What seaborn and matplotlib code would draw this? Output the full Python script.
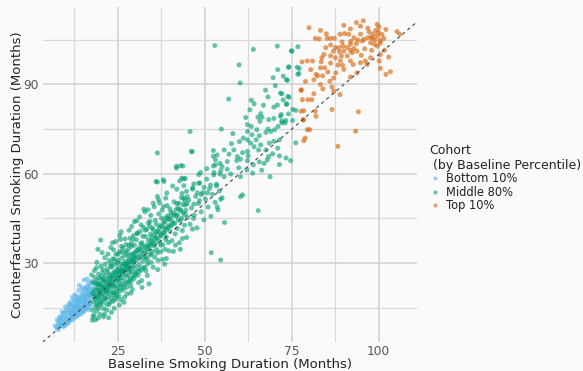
import matplotlib
matplotlib.use("Agg")
import matplotlib.pyplot as plt
import seaborn as sns
import pandas as pd
from matplotlib.ticker import MultipleLocator

# ---------------- data (baseline months, counterfactual months) ----------------
bottom_pts = [
    (7.5, 8.2), (8.0, 9.5), (8.3, 8.8), (8.8, 10.6), (9.0, 9.2), (9.2, 11.4), (9.5, 10.1), (9.8, 8.9),
    (10.0, 12.0), (10.1, 10.6), (10.4, 11.3), (10.6, 13.2), (10.8, 9.8), (11.0, 12.4), (11.2, 14.1),
    (11.3, 11.0), (11.5, 13.0), (11.7, 15.2), (11.8, 12.1), (12.0, 10.9), (12.1, 14.0), (12.3, 16.1),
    (12.4, 12.8), (12.6, 13.9), (12.8, 11.7), (12.9, 15.3), (13.0, 17.2), (13.1, 13.1), (13.3, 14.6),
    (13.4, 12.2), (13.6, 16.4), (13.7, 15.0), (13.9, 13.5), (14.0, 18.3), (14.1, 14.4), (14.2, 16.9),
    (14.4, 12.9), (14.5, 15.8), (14.6, 19.5), (14.7, 14.2), (14.9, 17.1), (15.0, 15.4), (15.1, 20.3),
    (15.2, 13.6), (15.3, 18.2), (15.4, 16.3), (15.5, 21.4), (15.6, 14.9), (15.7, 17.6), (15.8, 19.0),
    (15.9, 15.7), (16.0, 22.1), (16.1, 16.8), (16.2, 18.6), (16.3, 14.3), (16.4, 20.2), (16.5, 17.3),
    (16.6, 23.2), (16.7, 15.6), (16.8, 19.4), (16.9, 21.0), (17.0, 17.9), (17.1, 16.2), (17.2, 22.6),
    (17.3, 18.8), (17.4, 20.5), (11.6, 17.0), (13.2, 18.8), (14.8, 21.6), (12.7, 19.3), (10.2, 14.0),
    (9.4, 12.7), (10.0, 15.3), (11.0, 16.2), (12.4, 17.5), (9.0, 13.6), (8.3, 11.8), (15.3, 24.3),
    (8.6, 9.1), (13.8, 20.8), (16.2, 24.6), (7.9, 7.6),
    (8.1, 10.4), (8.7, 11.9), (9.3, 8.6), (9.6, 13.3), (10.3, 9.6), (10.7, 14.8), (11.1, 10.5),
    (11.4, 15.9), (11.9, 13.6), (12.2, 11.9), (12.5, 15.4), (12.9, 13.0), (13.2, 16.0), (13.5, 17.9),
    (13.8, 12.6), (14.1, 17.6), (14.3, 15.2), (14.7, 18.6), (15.0, 13.9), (15.2, 19.2), (15.5, 17.0),
    (15.8, 21.0), (16.0, 14.8), (16.3, 19.8), (16.6, 21.8), (16.9, 16.0), (17.2, 19.4), (17.4, 23.8),
    (14.0, 22.5), (12.0, 18.6), (7.0, 8.9), (7.6, 10.9),
]

middle_pts = [
    # 17-20
    (17.6, 14.2), (17.8, 19.8), (17.9, 23.5), (18.0, 16.9), (18.1, 21.3), (18.2, 12.6), (18.3, 18.4),
    (18.4, 25.1), (18.5, 15.3), (18.6, 20.7), (18.7, 17.5), (18.8, 22.8), (18.9, 13.9), (19.0, 19.2),
    (19.1, 24.0), (19.2, 16.4), (19.3, 21.9), (19.4, 18.1), (19.5, 26.3), (19.6, 14.8), (19.7, 20.4),
    (19.8, 23.1), (19.9, 17.2), (20.0, 19.8), (17.7, 10.8), (19.4, 11.5), (18.9, 28.4), (17.5, 26.0),
    # 20-23
    (20.1, 22.6), (20.2, 15.9), (20.3, 25.4), (20.4, 18.7), (20.5, 21.1), (20.6, 27.8), (20.7, 17.3),
    (20.8, 23.9), (20.9, 20.0), (21.0, 14.6), (21.1, 24.7), (21.2, 19.1), (21.3, 22.2), (21.4, 29.6),
    (21.5, 17.9), (21.6, 25.8), (21.7, 21.4), (21.8, 16.2), (21.9, 23.3), (22.0, 20.5), (22.1, 27.1),
    (22.2, 18.6), (22.3, 24.4), (22.4, 21.9), (22.5, 30.8), (22.6, 19.7), (22.7, 26.2), (22.8, 16.9),
    (22.9, 23.6), (23.0, 21.0), (20.5, 33.5), (21.2, 12.8), (22.4, 11.6), (23.0, 35.2),
    # 23-26
    (23.1, 25.3), (23.2, 18.2), (23.3, 28.6), (23.4, 22.5), (23.5, 20.0), (23.6, 31.4), (23.7, 24.1),
    (23.8, 19.3), (23.9, 26.9), (24.0, 22.8), (24.1, 29.5), (24.2, 17.6), (24.3, 25.7), (24.4, 21.6),
    (24.5, 32.9), (24.6, 23.9), (24.7, 27.7), (24.8, 20.4), (24.9, 30.1), (25.0, 24.6), (25.1, 22.1),
    (25.2, 28.3), (25.3, 19.0), (25.4, 26.4), (25.5, 33.8), (25.6, 23.2), (25.7, 29.9), (25.8, 21.5),
    (25.9, 27.3), (26.0, 25.0), (24.0, 14.8), (25.5, 15.9), (23.5, 36.8), (25.8, 37.9),
    # 26-30
    (26.1, 31.6), (26.2, 22.7), (26.3, 28.9), (26.4, 26.1), (26.5, 35.1), (26.6, 20.9), (26.7, 29.8),
    (26.8, 24.3), (26.9, 32.5), (27.0, 27.4), (27.1, 23.1), (27.2, 30.6), (27.3, 26.0), (27.4, 36.2),
    (27.5, 28.8), (27.6, 21.8), (27.7, 33.4), (27.8, 25.6), (27.9, 30.0), (28.0, 27.9), (28.1, 34.7),
    (28.2, 23.9), (28.3, 31.2), (28.4, 26.8), (28.5, 38.3), (28.6, 29.5), (28.7, 22.4), (28.8, 32.8),
    (28.9, 27.0), (29.0, 35.6), (29.1, 30.4), (29.2, 25.3), (29.3, 33.1), (29.4, 28.4), (29.5, 39.2),
    (29.6, 31.7), (29.7, 24.8), (29.8, 36.0), (29.9, 29.1), (30.0, 33.6), (27.0, 18.5), (28.8, 19.9),
    (26.0, 40.5), (29.0, 42.3),
    # 30-35
    (30.2, 27.2), (30.4, 37.8), (30.6, 31.0), (30.8, 25.9), (31.0, 34.9), (31.2, 29.4), (31.4, 40.6),
    (31.6, 32.3), (31.8, 27.6), (32.0, 36.8), (32.2, 30.6), (32.4, 42.0), (32.6, 34.1), (32.8, 28.5),
    (33.0, 38.9), (33.2, 31.8), (33.4, 36.0), (33.6, 29.7), (33.8, 43.5), (34.0, 35.2), (34.2, 32.6),
    (34.4, 39.7), (34.6, 30.2), (34.8, 37.4), (35.0, 33.9), (31.0, 23.4), (33.5, 25.8), (30.5, 44.2),
    (34.5, 46.0), (32.0, 21.8),
    # 35-40
    (35.2, 41.2), (35.4, 35.8), (35.6, 32.0), (35.8, 44.3), (36.0, 38.2), (36.2, 34.5), (36.4, 40.8),
    (36.6, 30.9), (36.8, 46.5), (37.0, 37.1), (37.2, 42.6), (37.4, 33.8), (37.6, 39.5), (37.8, 47.8),
    (38.0, 36.2), (38.2, 43.9), (38.4, 40.1), (38.6, 34.6), (38.8, 45.2), (39.0, 38.7), (39.2, 49.3),
    (39.4, 42.0), (39.6, 36.9), (39.8, 44.7), (40.0, 40.8), (36.5, 27.8), (38.5, 29.6), (37.0, 50.2),
    (39.0, 31.5),
    # 40-45
    (40.3, 47.0), (40.6, 37.5), (40.9, 43.2), (41.2, 50.6), (41.5, 39.8), (41.8, 45.9), (42.1, 41.6),
    (42.4, 48.4), (42.7, 36.8), (43.0, 44.1), (43.3, 52.0), (43.6, 40.9), (43.9, 46.8), (44.2, 42.7),
    (44.5, 49.5), (44.8, 38.6), (45.0, 45.3), (41.0, 33.9), (42.0, 54.8), (44.0, 56.0), (43.0, 34.6),
    # 45-55
    (45.4, 51.2), (45.8, 43.0), (46.2, 48.5), (46.6, 55.3), (47.0, 46.1), (47.4, 52.4), (47.8, 41.8),
    (48.2, 50.0), (48.6, 56.9), (49.0, 47.2), (49.4, 53.7), (49.8, 44.5), (50.2, 51.5), (50.6, 58.2),
    (51.0, 48.8), (51.4, 55.0), (51.8, 45.7), (52.2, 53.1), (52.6, 59.6), (53.0, 50.4), (53.4, 56.5),
    (53.8, 47.9), (54.2, 54.2), (54.6, 61.0), (55.0, 51.9),
    # wider scatter around the dense band
    (17.9, 12.0), (18.3, 27.5), (18.6, 10.9), (19.0, 30.2), (19.5, 22.8), (19.9, 12.7), (20.2, 29.0),
    (20.6, 24.5), (20.9, 11.9), (21.3, 31.8), (21.6, 20.8), (21.9, 14.2), (22.2, 33.0), (22.6, 22.3),
    (22.9, 28.9), (23.2, 13.4), (23.5, 26.0), (23.8, 34.4), (24.1, 20.1), (24.4, 37.2), (24.7, 18.4),
    (25.0, 30.9), (25.3, 25.2), (25.6, 39.3), (25.9, 17.7), (26.2, 33.7), (26.5, 27.3), (26.8, 16.8),
    (27.1, 38.1), (27.4, 29.4), (27.7, 19.6), (28.0, 32.3), (28.3, 41.0), (28.6, 24.7), (28.9, 36.6),
    (29.2, 21.1), (29.5, 30.8), (29.8, 43.9), (30.1, 26.4), (30.4, 34.2), (30.7, 39.9), (31.0, 28.1),
    (31.3, 45.5), (31.6, 36.4), (31.9, 24.1), (32.2, 39.0), (32.5, 33.0), (32.8, 47.2), (33.1, 27.4),
    (33.4, 41.3), (33.7, 34.8), (34.0, 23.0), (34.3, 44.0), (34.6, 36.1), (34.9, 41.8), (35.2, 28.6),
    (35.5, 48.9), (35.8, 38.6), (36.1, 43.0), (36.4, 33.4), (36.7, 51.3), (37.0, 40.3), (37.3, 36.0),
    (37.6, 45.1), (37.9, 31.2), (38.2, 49.0), (38.5, 41.7), (38.8, 37.9), (39.1, 53.5), (39.4, 45.9),
    (39.7, 34.1), (40.0, 48.2), (40.4, 42.5), (40.8, 55.9), (41.2, 46.0), (41.6, 36.0), (42.0, 49.9),
    (42.4, 44.6), (42.8, 57.6), (43.2, 47.5), (43.6, 38.2), (44.0, 51.8), (44.4, 46.3), (44.8, 54.1),
    # dense core near the diagonal
    (18.2, 19.6), (18.8, 18.6), (19.3, 20.9), (19.7, 18.9), (20.1, 20.7), (20.6, 22.1), (21.0, 21.8),
    (21.4, 23.7), (21.8, 20.3), (22.2, 22.9), (22.6, 24.9), (23.0, 23.2), (23.4, 24.8), (23.8, 22.2),
    (24.2, 26.8), (24.6, 25.4), (25.0, 27.1), (25.4, 24.3), (25.8, 26.9), (26.2, 28.0), (26.6, 27.1),
    (27.0, 29.5), (27.4, 27.8), (27.8, 29.1), (28.2, 30.4), (28.6, 28.1), (29.0, 31.3), (29.4, 30.6),
    (29.8, 32.4), (30.2, 31.9), (30.6, 33.8), (31.0, 32.2), (31.4, 34.6), (31.8, 33.7), (32.2, 35.5),
    (32.6, 31.9), (33.0, 35.4), (33.4, 33.7), (33.8, 37.6), (34.2, 36.3), (34.6, 38.5), (35.0, 37.0),
    (35.4, 39.6), (35.8, 36.7), (36.2, 40.2), (36.6, 38.4), (37.0, 41.8), (37.4, 39.1), (37.8, 42.4),
    (38.2, 40.3), (38.6, 43.6), (39.0, 41.3), (39.4, 44.8), (39.8, 42.6), (40.2, 45.4), (40.6, 44.0),
    (41.0, 46.8), (41.4, 43.4), (41.8, 48.0), (42.2, 46.2), (42.6, 50.1), (43.0, 47.9), (43.4, 45.1),
    (43.8, 49.6), (44.2, 51.1), (44.6, 47.7),
    (18.5, 23.3), (19.1, 15.8), (19.6, 25.0), (20.3, 16.6), (20.8, 26.7), (21.4, 18.0), (21.9, 27.9),
    (22.5, 16.0), (23.1, 29.8), (23.6, 17.1), (24.0, 31.2), (24.5, 19.2), (25.1, 33.0), (25.6, 20.6),
    (26.1, 35.6), (26.7, 22.0), (27.2, 33.9), (27.8, 23.4), (28.3, 36.0), (28.9, 23.9), (29.4, 38.0),
    (29.9, 26.0), (30.5, 40.0), (31.1, 27.0), (31.7, 42.8), (32.3, 28.4), (32.9, 41.0), (33.5, 31.0),
    (34.1, 42.5), (34.7, 33.0),
    # off-band outliers
    (36.4, 67.0), (46.2, 67.5), (52.5, 65.9), (53.1, 63.0), (41.9, 61.9), (43.1, 62.7), (36.4, 57.2),
    (38.3, 57.4), (44.0, 58.3), (48.3, 59.7), (32.5, 48.1), (33.7, 47.9), (35.2, 50.1), (36.4, 52.4),
    (38.8, 51.8), (54.6, 31.0), (51.9, 33.5), (65.4, 47.6), (55.7, 43.6), (46.5, 41.4), (46.8, 45.0),
    (43.4, 58.5), (38.1, 58.0), (36.0, 57.4), (41.9, 62.5), (19.3, 34.6), (20.1, 37.7),
    # upper sparse region
    (52.9, 103.1), (64.0, 101.8), (70.9, 102.9), (74.9, 101.3), (59.9, 96.6), (60.2, 90.5),
    (74.2, 95.9), (77.1, 93.7), (69.7, 92.3), (72.6, 92.8), (73.8, 91.4), (56.9, 85.1), (63.4, 84.7),
    (64.2, 83.5), (68.2, 85.8), (69.9, 82.4), (70.9, 83.1), (72.2, 86.9), (73.9, 86.0), (73.6, 83.5),
    (66.1, 80.2), (65.3, 79.0), (66.5, 79.0), (68.4, 78.2), (69.9, 78.6), (71.8, 79.3), (72.2, 77.7),
    (65.9, 77.6), (62.3, 76.5), (63.4, 75.9), (65.0, 74.8), (68.2, 75.0), (70.1, 74.8), (71.1, 75.9),
    (54.8, 75.0), (45.8, 74.2), (62.3, 74.2), (63.6, 73.1), (65.7, 72.8), (67.6, 73.9), (69.0, 74.2),
    (71.5, 71.4), (61.1, 72.0), (62.3, 71.4), (63.2, 70.3), (64.8, 71.4), (66.1, 69.7), (68.6, 70.3),
    (57.7, 70.1), (55.6, 68.0), (53.6, 66.3), (52.5, 67.8), (46.4, 67.4), (58.4, 68.0), (59.4, 65.8),
    (60.9, 67.1), (62.3, 67.5), (64.2, 69.1), (65.5, 68.0), (67.6, 68.0), (68.4, 65.8), (69.5, 66.7),
    (71.5, 66.0), (73.4, 65.3), (74.7, 64.4), (71.5, 63.1), (68.0, 64.7), (67.1, 63.5), (65.7, 64.0),
    (64.0, 63.0), (62.3, 64.4), (60.3, 64.9), (59.2, 64.4), (56.5, 64.1), (54.4, 63.5), (53.1, 64.7),
    (52.5, 62.6), (55.0, 62.4), (56.5, 61.5), (50.6, 61.7), (48.8, 60.4), (44.4, 58.4), (43.7, 62.6),
    (52.7, 60.4), (54.4, 59.9), (55.6, 59.0), (57.5, 59.9), (60.3, 59.0), (62.1, 61.3), (63.8, 60.2),
    (68.8, 59.0), (46.9, 56.6), (48.3, 56.8), (49.8, 55.4), (51.7, 56.2), (53.4, 55.9), (60.9, 52.9),
    (60.3, 52.3), (53.6, 48.9), (54.6, 51.4), (43.5, 53.4), (46.5, 54.8), (45.0, 52.3), (47.9, 53.6),
    (49.0, 53.0), (50.8, 53.6), (48.5, 51.0), (45.0, 50.0), (46.9, 49.8),
    (75.1, 101.2), (76.8, 102.7), (74.1, 95.8), (76.6, 95.8), (77.2, 95.4), (76.8, 93.4), (73.5, 91.6),
    (71.8, 87.1), (74.3, 85.7), (72.6, 84.8), (73.5, 83.3), (75.3, 81.6), (76.2, 81.3), (72.0, 79.9),
    (74.1, 80.1), (75.3, 77.9), (73.3, 77.9), (72.2, 77.1), (73.1, 77.1), (76.2, 70.4),
    (58.1, 73.5), (60.0, 70.8), (61.8, 78.9), (63.0, 81.5), (66.9, 83.0), (67.5, 88.1), (70.3, 89.6),
    (71.0, 95.0), (62.5, 66.0), (57.0, 66.6), (59.8, 62.0), (66.4, 61.2), (69.9, 70.9), (71.0, 68.6),
]

top_pts = [
    (80.0, 109.1), (83.3, 108.2), (90.0, 109.9), (91.9, 108.7), (93.6, 110.8), (95.6, 111.4),
    (94.8, 109.6), (96.9, 108.9), (99.6, 110.2), (100.1, 109.3), (99.2, 108.2), (102.1, 108.5),
    (105.3, 107.8), (106.1, 106.9), (81.8, 105.5), (82.9, 105.3), (85.2, 105.5), (86.2, 105.5),
    (87.3, 105.5), (88.9, 106.9), (90.2, 107.1), (91.4, 106.9), (92.9, 105.7), (94.8, 106.9),
    (95.8, 105.2), (96.9, 105.7), (98.3, 105.5), (99.6, 106.3), (100.5, 104.8), (101.5, 105.5),
    (97.7, 104.0), (98.8, 103.5), (99.6, 102.9), (100.5, 103.9), (95.3, 104.6), (93.6, 103.7),
    (91.9, 103.5), (91.0, 102.4), (89.8, 102.9), (88.6, 102.4), (87.6, 102.4), (86.2, 103.3),
    (84.8, 102.4), (87.0, 101.2), (88.7, 101.0), (90.0, 101.2), (91.9, 101.5), (92.9, 102.1),
    (93.8, 101.2), (92.4, 100.7), (91.0, 99.6), (89.3, 99.6), (87.6, 99.0), (86.2, 99.6),
    (84.3, 100.1), (83.7, 99.0), (83.5, 97.6), (84.5, 95.6), (83.3, 95.6), (82.0, 93.4),
    (82.5, 92.9), (83.9, 92.9), (81.4, 91.6), (78.0, 97.6), (79.5, 97.9), (81.0, 97.9),
    (86.2, 97.2), (88.3, 96.5), (89.6, 96.5), (91.9, 97.9), (92.7, 96.7), (94.8, 97.3),
    (96.2, 97.9), (96.7, 96.7), (97.7, 99.0), (100.2, 97.9), (100.5, 100.1), (101.7, 101.5),
    (102.9, 99.2), (103.4, 94.3), (100.5, 95.4), (102.1, 93.4), (91.9, 92.5), (93.8, 93.9),
    (90.0, 95.1), (87.7, 93.9), (87.1, 92.2), (86.0, 91.1), (86.6, 89.1), (88.9, 86.6),
    (87.1, 87.7), (83.3, 90.0), (81.4, 86.9), (80.8, 84.9), (79.7, 84.9), (77.7, 88.0),
    (78.1, 84.9), (77.7, 81.0), (78.5, 81.2), (81.8, 81.0), (82.0, 79.3), (86.6, 81.6),
    (94.2, 80.8), (78.3, 78.2), (79.5, 74.8), (80.2, 74.8), (78.9, 72.0), (78.5, 71.1),
    (93.4, 74.3), (88.3, 69.2), (77.8, 88.2), (78.4, 78.0), (97.8, 105.9), (99.0, 105.0),
    (100.0, 107.5), (98.5, 107.0), (94.0, 105.0), (92.0, 104.5),
    (85.0, 107.0), (89.5, 104.3), (96.0, 102.0), (97.3, 107.6), (101.0, 106.8), (98.0, 101.5),
    (95.0, 99.8), (89.0, 98.0), (85.4, 94.2), (80.5, 95.0), (79.0, 91.0), (84.0, 88.5),
]

cohorts = ["Bottom 10%", "Middle 80%", "Top 10%"]
colors = ["#56B4E9", "#009E73", "#D55E00"]

# ---------------- build dataframe ----------------
rows = []
for name, pts in zip(cohorts, [bottom_pts, middle_pts, top_pts]):
    for bx, cy in pts:
        rows.append({"baseline": bx, "counterfactual": cy, "Cohort": name})
df = pd.DataFrame(rows)

# ---------------- style ----------------
bg = "#fafafa"
sns.set_theme(style="whitegrid")
plt.rcParams["font.family"] = ["DejaVu Sans"]

fig = plt.figure(figsize=(5.83, 3.71), dpi=100, facecolor=bg)
ax = fig.add_axes([0.074, 0.078, 0.641, 0.902])
ax.set_facecolor(bg)

sns.scatterplot(
    data=df, x="baseline", y="counterfactual", hue="Cohort",
    hue_order=cohorts, palette=dict(zip(cohorts, colors)),
    s=13, alpha=0.6, linewidth=0, ax=ax,
)

xlim = (3.56, 111.0)
ylim = (3.43, 115.9)
lo, hi = 3.43, 111.0
ax.plot([lo, hi], [lo, hi], linestyle=(0, (3, 3)), color="#444444", linewidth=0.8, zorder=3)
ax.set_xlim(*xlim)
ax.set_ylim(*ylim)

ax.xaxis.set_major_locator(MultipleLocator(25))
ax.xaxis.set_minor_locator(MultipleLocator(12.5))
ax.yaxis.set_major_locator(MultipleLocator(30))
ax.yaxis.set_minor_locator(MultipleLocator(15))
ax.grid(which="major", color="#cfcfcf", linewidth=1.1)
ax.grid(which="minor", color="#d9d9d9", linewidth=0.9)
ax.set_axisbelow(True)
for sp in ax.spines.values():
    sp.set_visible(False)
ax.tick_params(which="both", length=0, labelsize=8.8, labelcolor="#555555")
ax.tick_params(axis="x", pad=2)
ax.tick_params(axis="y", pad=3)

ax.set_xlabel("Baseline Smoking Duration (Months)", fontsize=9.5, color="#222222", labelpad=0)
ax.set_ylabel("Counterfactual Smoking Duration (Months)", fontsize=9.5, color="#222222", labelpad=-0.5)

leg = ax.legend(
    title="Cohort\n (by Baseline Percentile)", loc="center left", bbox_to_anchor=(1.033, 0.49),
    frameon=False, fontsize=8.3, title_fontsize=9.0, markerscale=0.8,
    handlelength=1.0, handletextpad=0.45, labelspacing=0.05, borderaxespad=0.0, borderpad=0.0,
)
leg._legend_box.align = "left"
for t in leg.get_texts():
    t.set_color("#222222")
leg.get_title().set_color("#222222")

fig.savefig("out.png", dpi=100, facecolor=bg)
